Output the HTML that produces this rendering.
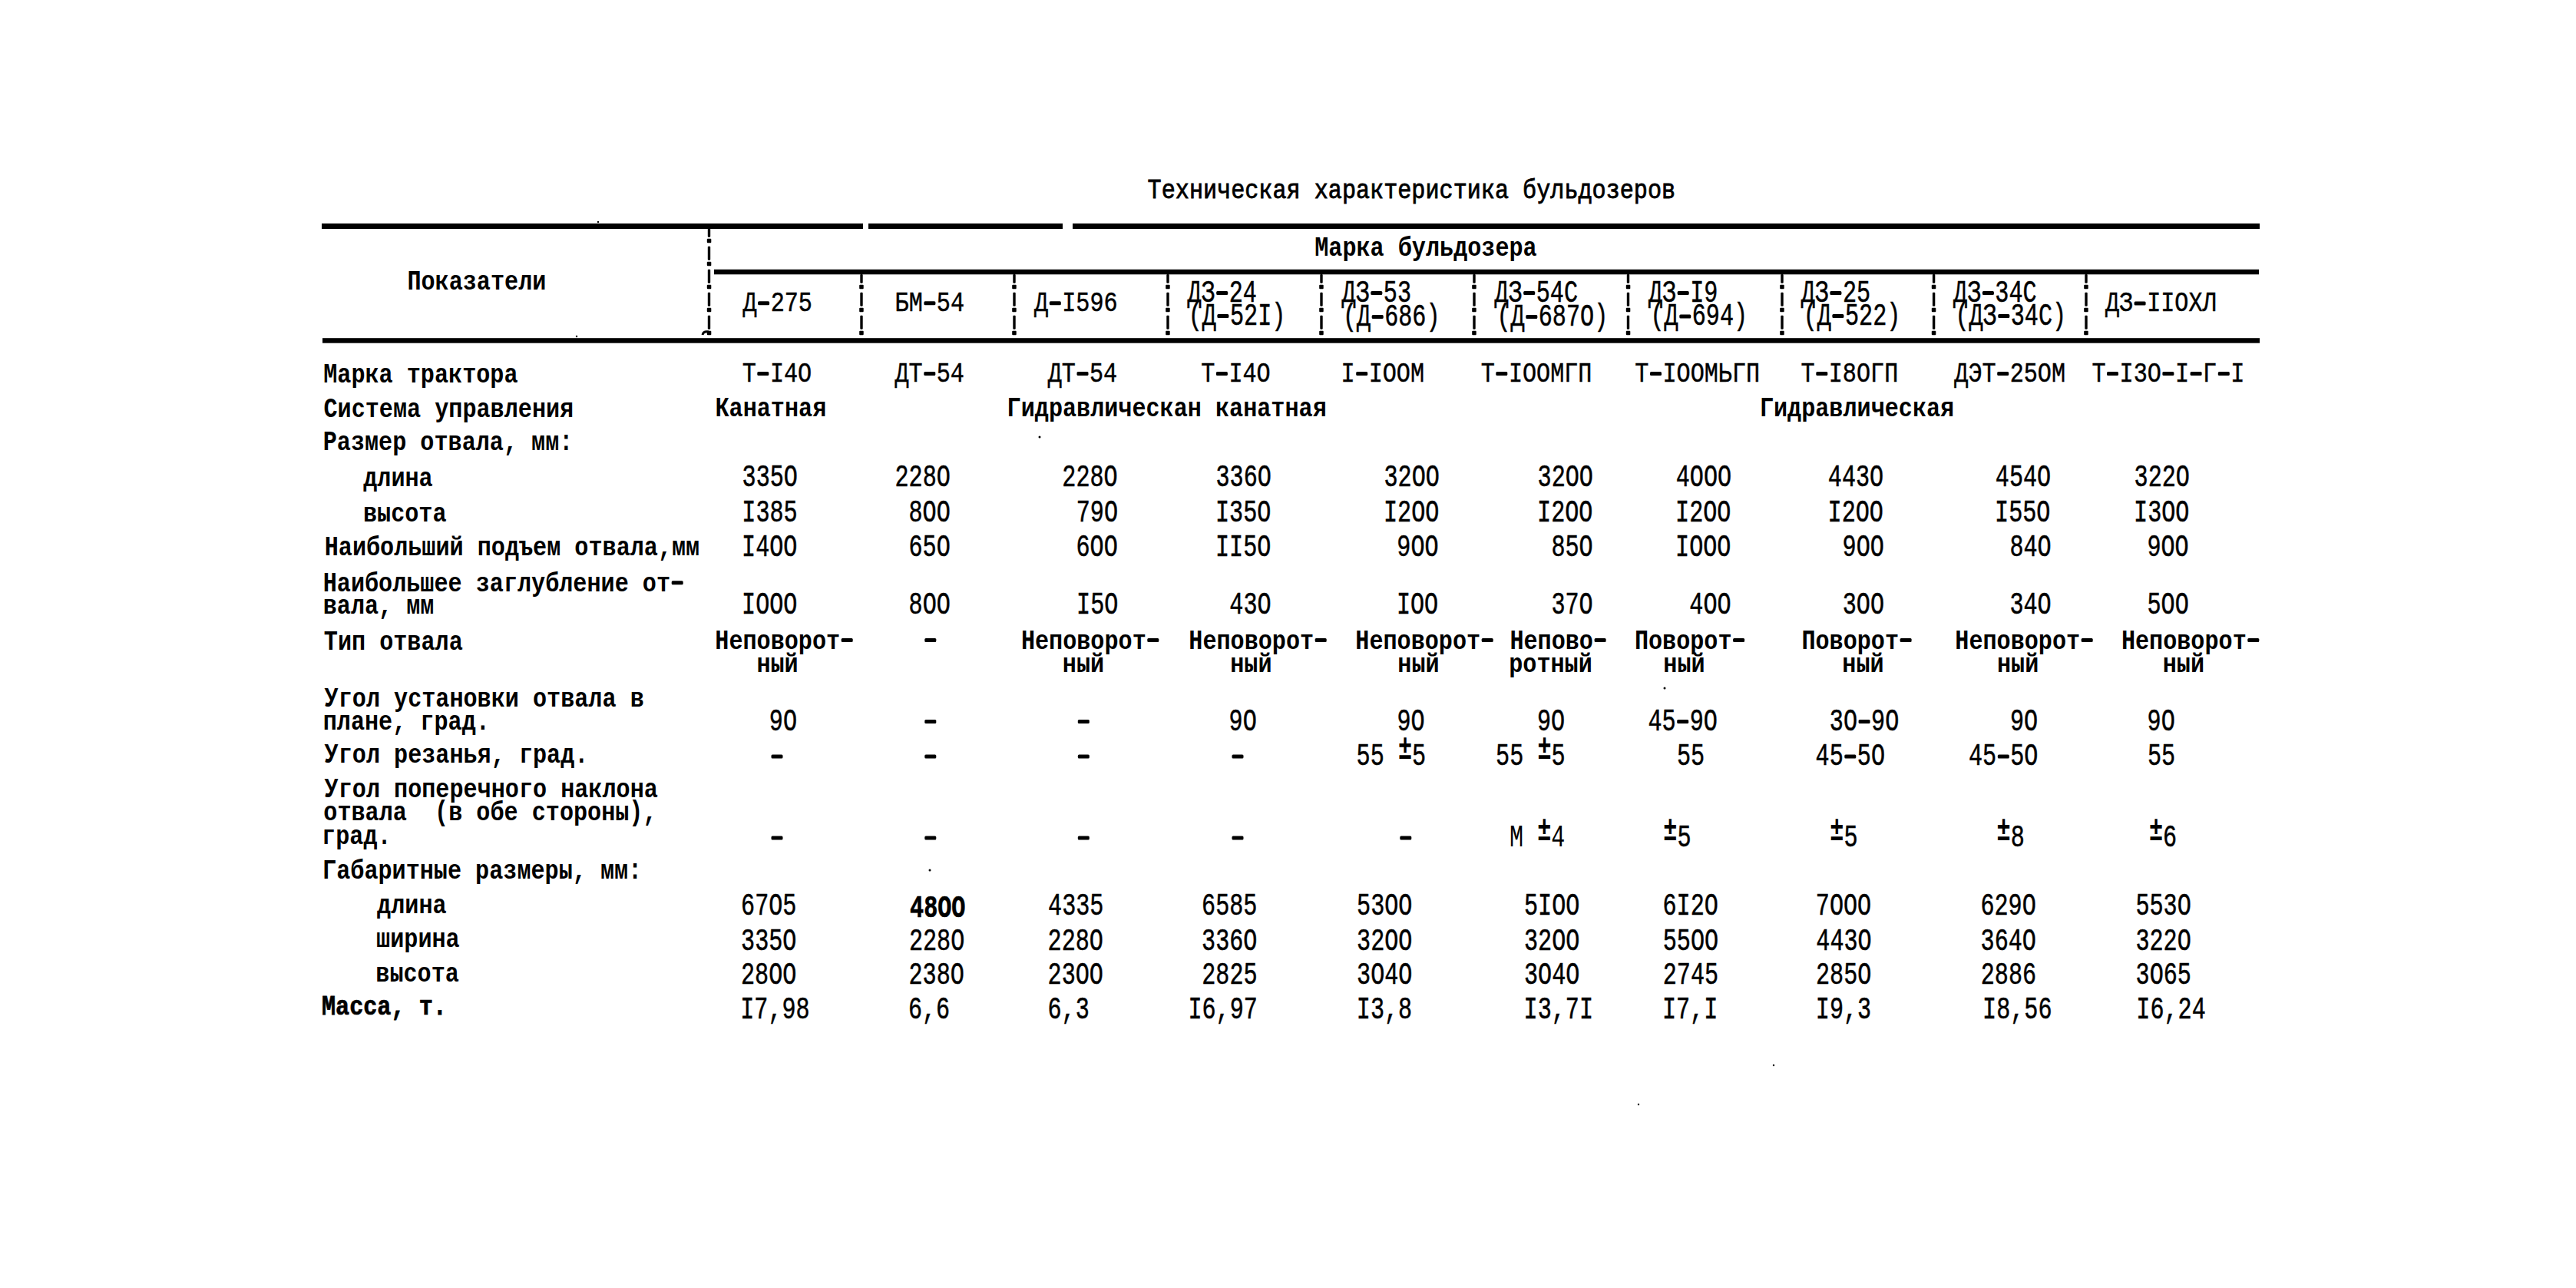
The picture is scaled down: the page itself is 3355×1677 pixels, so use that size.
<!DOCTYPE html><html><head><meta charset="utf-8"><style>html,body{margin:0;padding:0;background:#fff;width:3355px;height:1677px;overflow:hidden}svg{position:absolute;left:0;top:0}text{font-family:"Liberation Mono",monospace;fill:#000}</style></head><body>
<svg width="3355" height="1677" viewBox="0 0 3355 1677">
<rect x="419.0" y="291.0" width="705.0" height="7.0" fill="#000"/>
<rect x="1131.0" y="291.0" width="253.0" height="7.0" fill="#000"/>
<rect x="1397.0" y="291.0" width="1546.0" height="7.0" fill="#000"/>
<rect x="930.0" y="350.8" width="2012.0" height="6.5" fill="#000"/>
<rect x="420.0" y="440.2" width="2523.0" height="6.5" fill="#000"/>
<rect x="921.8" y="297.0" width="3.4" height="11.8" fill="#000" rx="1"/>
<rect x="921.8" y="320.8" width="3.4" height="18.0" fill="#000" rx="1"/>
<rect x="920.8" y="310.8" width="5.5" height="5.5" fill="#000" rx="1"/>
<rect x="921.8" y="350.8" width="3.4" height="18.0" fill="#000" rx="1"/>
<rect x="920.8" y="340.8" width="5.5" height="5.5" fill="#000" rx="1"/>
<rect x="921.8" y="380.8" width="3.4" height="18.0" fill="#000" rx="1"/>
<rect x="920.8" y="370.8" width="5.5" height="5.5" fill="#000" rx="1"/>
<rect x="921.8" y="410.8" width="3.4" height="18.0" fill="#000" rx="1"/>
<rect x="920.8" y="400.8" width="5.5" height="5.5" fill="#000" rx="1"/>
<rect x="920.8" y="430.8" width="5.5" height="5.5" fill="#000" rx="1"/>
<rect x="1120.3" y="357.0" width="3.4" height="11.8" fill="#000" rx="1"/>
<rect x="1120.3" y="380.8" width="3.4" height="18.0" fill="#000" rx="1"/>
<rect x="1119.2" y="370.8" width="5.5" height="5.5" fill="#000" rx="1"/>
<rect x="1120.3" y="410.8" width="3.4" height="18.0" fill="#000" rx="1"/>
<rect x="1119.2" y="400.8" width="5.5" height="5.5" fill="#000" rx="1"/>
<rect x="1119.2" y="430.8" width="5.5" height="5.5" fill="#000" rx="1"/>
<rect x="1319.3" y="357.0" width="3.4" height="11.8" fill="#000" rx="1"/>
<rect x="1319.3" y="380.8" width="3.4" height="18.0" fill="#000" rx="1"/>
<rect x="1318.2" y="370.8" width="5.5" height="5.5" fill="#000" rx="1"/>
<rect x="1319.3" y="410.8" width="3.4" height="18.0" fill="#000" rx="1"/>
<rect x="1318.2" y="400.8" width="5.5" height="5.5" fill="#000" rx="1"/>
<rect x="1318.2" y="430.8" width="5.5" height="5.5" fill="#000" rx="1"/>
<rect x="1519.3" y="357.0" width="3.4" height="11.8" fill="#000" rx="1"/>
<rect x="1519.3" y="380.8" width="3.4" height="18.0" fill="#000" rx="1"/>
<rect x="1518.2" y="370.8" width="5.5" height="5.5" fill="#000" rx="1"/>
<rect x="1519.3" y="410.8" width="3.4" height="18.0" fill="#000" rx="1"/>
<rect x="1518.2" y="400.8" width="5.5" height="5.5" fill="#000" rx="1"/>
<rect x="1518.2" y="430.8" width="5.5" height="5.5" fill="#000" rx="1"/>
<rect x="1719.3" y="357.0" width="3.4" height="11.8" fill="#000" rx="1"/>
<rect x="1719.3" y="380.8" width="3.4" height="18.0" fill="#000" rx="1"/>
<rect x="1718.2" y="370.8" width="5.5" height="5.5" fill="#000" rx="1"/>
<rect x="1719.3" y="410.8" width="3.4" height="18.0" fill="#000" rx="1"/>
<rect x="1718.2" y="400.8" width="5.5" height="5.5" fill="#000" rx="1"/>
<rect x="1718.2" y="430.8" width="5.5" height="5.5" fill="#000" rx="1"/>
<rect x="1918.3" y="357.0" width="3.4" height="11.8" fill="#000" rx="1"/>
<rect x="1918.3" y="380.8" width="3.4" height="18.0" fill="#000" rx="1"/>
<rect x="1917.2" y="370.8" width="5.5" height="5.5" fill="#000" rx="1"/>
<rect x="1918.3" y="410.8" width="3.4" height="18.0" fill="#000" rx="1"/>
<rect x="1917.2" y="400.8" width="5.5" height="5.5" fill="#000" rx="1"/>
<rect x="1917.2" y="430.8" width="5.5" height="5.5" fill="#000" rx="1"/>
<rect x="2118.8" y="357.0" width="3.4" height="11.8" fill="#000" rx="1"/>
<rect x="2118.8" y="380.8" width="3.4" height="18.0" fill="#000" rx="1"/>
<rect x="2117.8" y="370.8" width="5.5" height="5.5" fill="#000" rx="1"/>
<rect x="2118.8" y="410.8" width="3.4" height="18.0" fill="#000" rx="1"/>
<rect x="2117.8" y="400.8" width="5.5" height="5.5" fill="#000" rx="1"/>
<rect x="2117.8" y="430.8" width="5.5" height="5.5" fill="#000" rx="1"/>
<rect x="2319.3" y="357.0" width="3.4" height="11.8" fill="#000" rx="1"/>
<rect x="2319.3" y="380.8" width="3.4" height="18.0" fill="#000" rx="1"/>
<rect x="2318.2" y="370.8" width="5.5" height="5.5" fill="#000" rx="1"/>
<rect x="2319.3" y="410.8" width="3.4" height="18.0" fill="#000" rx="1"/>
<rect x="2318.2" y="400.8" width="5.5" height="5.5" fill="#000" rx="1"/>
<rect x="2318.2" y="430.8" width="5.5" height="5.5" fill="#000" rx="1"/>
<rect x="2516.9" y="357.0" width="3.4" height="11.8" fill="#000" rx="1"/>
<rect x="2516.9" y="380.8" width="3.4" height="18.0" fill="#000" rx="1"/>
<rect x="2515.8" y="370.8" width="5.5" height="5.5" fill="#000" rx="1"/>
<rect x="2516.9" y="410.8" width="3.4" height="18.0" fill="#000" rx="1"/>
<rect x="2515.8" y="400.8" width="5.5" height="5.5" fill="#000" rx="1"/>
<rect x="2515.8" y="430.8" width="5.5" height="5.5" fill="#000" rx="1"/>
<rect x="2715.3" y="357.0" width="3.4" height="11.8" fill="#000" rx="1"/>
<rect x="2715.3" y="380.8" width="3.4" height="18.0" fill="#000" rx="1"/>
<rect x="2714.2" y="370.8" width="5.5" height="5.5" fill="#000" rx="1"/>
<rect x="2715.3" y="410.8" width="3.4" height="18.0" fill="#000" rx="1"/>
<rect x="2714.2" y="400.8" width="5.5" height="5.5" fill="#000" rx="1"/>
<rect x="2714.2" y="430.8" width="5.5" height="5.5" fill="#000" rx="1"/>
<circle cx="779" cy="289" r="1.2" fill="#000"/>
<circle cx="751" cy="438" r="1.2" fill="#000"/>
<circle cx="1354" cy="569" r="1.5" fill="#000"/>
<circle cx="2168" cy="896" r="1.5" fill="#000"/>
<circle cx="1211" cy="1133" r="1.5" fill="#000"/>
<circle cx="2310" cy="1387" r="1.2" fill="#000"/>
<circle cx="2134" cy="1438" r="1.2" fill="#000"/>
<path d="M923 432 Q916 431 915 436" stroke="#000" stroke-width="3" fill="none"/>
<text transform="translate(1494.6,258.0) scale(1,1.250)" font-size="30.16" font-weight="normal" letter-spacing="0.00" stroke="#000" stroke-width="0.70" xml:space="preserve">Т                                     </text>
<text transform="translate(1494.6,258.0) scale(1,1.170)" font-size="30.16" font-weight="normal" letter-spacing="0.00" stroke="#000" stroke-width="0.70" xml:space="preserve"> ехническая характеристика бульдозеров</text>
<text transform="translate(530.4,376.7) scale(1,1.250)" font-size="30.16" font-weight="bold" letter-spacing="0.00" xml:space="preserve">П         </text>
<text transform="translate(530.4,376.7) scale(1,1.170)" font-size="30.16" font-weight="bold" letter-spacing="0.00" xml:space="preserve"> оказатели</text>
<text transform="translate(1712.2,333.0) scale(1,1.250)" font-size="30.16" font-weight="bold" letter-spacing="0.00" xml:space="preserve">М               </text>
<text transform="translate(1712.2,333.0) scale(1,1.170)" font-size="30.16" font-weight="bold" letter-spacing="0.00" xml:space="preserve"> арка бульдозера</text>
<rect x="987.1" y="392.2" width="15.0" height="5.0" fill="#000" rx="1.5"/>
<text transform="translate(967.5,404.7) scale(1,1.200)" font-size="30.16" font-weight="normal" letter-spacing="0.00" stroke="#000" stroke-width="0.40" xml:space="preserve">Д 275</text>
<rect x="1203.4" y="392.2" width="15.0" height="5.0" fill="#000" rx="1.5"/>
<text transform="translate(1165.6,404.7) scale(1,1.200)" font-size="30.16" font-weight="normal" letter-spacing="0.00" stroke="#000" stroke-width="0.40" xml:space="preserve">БМ 54</text>
<rect x="1366.8" y="392.2" width="15.0" height="5.0" fill="#000" rx="1.5"/>
<text transform="translate(1347.1,404.7) scale(1,1.200)" font-size="30.16" font-weight="normal" letter-spacing="0.00" stroke="#000" stroke-width="0.40" xml:space="preserve">Д I596</text>
<rect x="1584.2" y="379.0" width="15.0" height="5.0" fill="#000" rx="1.5"/>
<text transform="translate(1546.5,392.5) scale(1,1.330)" font-size="30.16" font-weight="normal" letter-spacing="0.00" stroke="#000" stroke-width="0.40" xml:space="preserve">ДЗ 24</text>
<rect x="1585.4" y="409.0" width="15.0" height="5.0" fill="#000" rx="1.5"/>
<text transform="translate(1547.7,422.5) scale(1,1.330)" font-size="30.16" font-weight="normal" letter-spacing="0.00" stroke="#000" stroke-width="0.40" xml:space="preserve">(Д 52I)</text>
<rect x="1785.3" y="379.0" width="15.0" height="5.0" fill="#000" rx="1.5"/>
<text transform="translate(1747.6,392.5) scale(1,1.330)" font-size="30.16" font-weight="normal" letter-spacing="0.00" stroke="#000" stroke-width="0.40" xml:space="preserve">ДЗ 53</text>
<rect x="1786.7" y="410.0" width="15.0" height="5.0" fill="#000" rx="1.5"/>
<text transform="translate(1748.9,423.5) scale(1,1.330)" font-size="30.16" font-weight="normal" letter-spacing="0.00" stroke="#000" stroke-width="0.40" xml:space="preserve">(Д 686)</text>
<rect x="1984.2" y="379.0" width="15.0" height="5.0" fill="#000" rx="1.5"/>
<text transform="translate(1946.5,392.5) scale(1,1.330)" font-size="30.16" font-weight="normal" letter-spacing="0.00" stroke="#000" stroke-width="0.40" xml:space="preserve">ДЗ 54С</text>
<rect x="1987.3" y="410.0" width="15.0" height="5.0" fill="#000" rx="1.5"/>
<text transform="translate(1949.5,423.5) scale(1,1.330)" font-size="30.16" font-weight="normal" letter-spacing="0.00" stroke="#000" stroke-width="0.40" xml:space="preserve">(Д 687O)</text>
<rect x="2184.7" y="379.0" width="15.0" height="5.0" fill="#000" rx="1.5"/>
<text transform="translate(2146.9,392.5) scale(1,1.330)" font-size="30.16" font-weight="normal" letter-spacing="0.00" stroke="#000" stroke-width="0.40" xml:space="preserve">ДЗ I9</text>
<rect x="2187.3" y="409.5" width="15.0" height="5.0" fill="#000" rx="1.5"/>
<text transform="translate(2149.5,423.0) scale(1,1.330)" font-size="30.16" font-weight="normal" letter-spacing="0.00" stroke="#000" stroke-width="0.40" xml:space="preserve">(Д 694)</text>
<rect x="2383.4" y="379.0" width="15.0" height="5.0" fill="#000" rx="1.5"/>
<text transform="translate(2345.7,392.5) scale(1,1.330)" font-size="30.16" font-weight="normal" letter-spacing="0.00" stroke="#000" stroke-width="0.40" xml:space="preserve">ДЗ 25</text>
<rect x="2386.4" y="409.0" width="15.0" height="5.0" fill="#000" rx="1.5"/>
<text transform="translate(2348.7,422.5) scale(1,1.330)" font-size="30.16" font-weight="normal" letter-spacing="0.00" stroke="#000" stroke-width="0.40" xml:space="preserve">(Д 522)</text>
<rect x="2581.9" y="379.0" width="15.0" height="5.0" fill="#000" rx="1.5"/>
<text transform="translate(2544.1,392.5) scale(1,1.330)" font-size="30.16" font-weight="normal" letter-spacing="0.00" stroke="#000" stroke-width="0.40" xml:space="preserve">ДЗ 34С</text>
<rect x="2602.3" y="409.0" width="15.0" height="5.0" fill="#000" rx="1.5"/>
<text transform="translate(2546.4,422.5) scale(1,1.330)" font-size="30.16" font-weight="normal" letter-spacing="0.00" stroke="#000" stroke-width="0.40" xml:space="preserve">(ДЗ 34С)</text>
<rect x="2779.6" y="392.5" width="15.0" height="5.0" fill="#000" rx="1.5"/>
<text transform="translate(2741.9,405.0) scale(1,1.200)" font-size="30.16" font-weight="normal" letter-spacing="0.00" stroke="#000" stroke-width="0.40" xml:space="preserve">ДЗ IIОХЛ</text>
<text transform="translate(421.2,497.5) scale(1,1.250)" font-size="30.16" font-weight="bold" letter-spacing="0.00" xml:space="preserve">М             </text>
<text transform="translate(421.2,497.5) scale(1,1.170)" font-size="30.16" font-weight="bold" letter-spacing="0.00" xml:space="preserve"> арка трактора</text>
<text transform="translate(421.5,542.6) scale(1,1.250)" font-size="30.16" font-weight="bold" letter-spacing="0.00" xml:space="preserve">С                 </text>
<text transform="translate(421.5,542.6) scale(1,1.170)" font-size="30.16" font-weight="bold" letter-spacing="0.00" xml:space="preserve"> истема управления</text>
<text transform="translate(420.7,586.3) scale(1,1.250)" font-size="30.16" font-weight="bold" letter-spacing="0.00" xml:space="preserve">Р            ,   :</text>
<text transform="translate(420.7,586.3) scale(1,1.170)" font-size="30.16" font-weight="bold" letter-spacing="0.00" xml:space="preserve"> азмер отвала  мм </text>
<text transform="translate(473.2,633.4) scale(1,1.170)" font-size="30.16" font-weight="bold" letter-spacing="0.00" xml:space="preserve">длина</text>
<text transform="translate(473.0,678.9) scale(1,1.170)" font-size="30.16" font-weight="bold" letter-spacing="0.00" xml:space="preserve">высота</text>
<text transform="translate(422.7,722.5) scale(1,1.250)" font-size="30.16" font-weight="bold" letter-spacing="0.00" xml:space="preserve">Н                       ,  </text>
<text transform="translate(422.7,722.5) scale(1,1.170)" font-size="30.16" font-weight="bold" letter-spacing="0.00" xml:space="preserve"> аибольший подъем отвала мм</text>
<rect x="874.7" y="756.2" width="15.0" height="5.0" fill="#000" rx="1.5"/>
<text transform="translate(420.7,769.7) scale(1,1.250)" font-size="30.16" font-weight="bold" letter-spacing="0.00" xml:space="preserve">Н                         </text>
<text transform="translate(420.7,769.7) scale(1,1.170)" font-size="30.16" font-weight="bold" letter-spacing="0.00" xml:space="preserve"> аибольшее заглубление от </text>
<text transform="translate(420.7,799.0) scale(1,1.250)" font-size="30.16" font-weight="bold" letter-spacing="0.00" xml:space="preserve">    ,   </text>
<text transform="translate(420.7,799.0) scale(1,1.170)" font-size="30.16" font-weight="bold" letter-spacing="0.00" xml:space="preserve">вала  мм</text>
<text transform="translate(421.8,845.5) scale(1,1.250)" font-size="30.16" font-weight="bold" letter-spacing="0.00" xml:space="preserve">Т         </text>
<text transform="translate(421.8,845.5) scale(1,1.170)" font-size="30.16" font-weight="bold" letter-spacing="0.00" xml:space="preserve"> ип отвала</text>
<text transform="translate(422.6,920.3) scale(1,1.250)" font-size="30.16" font-weight="bold" letter-spacing="0.00" xml:space="preserve">У                      </text>
<text transform="translate(422.6,920.3) scale(1,1.170)" font-size="30.16" font-weight="bold" letter-spacing="0.00" xml:space="preserve"> гол установки отвала в</text>
<text transform="translate(420.7,950.0) scale(1,1.250)" font-size="30.16" font-weight="bold" letter-spacing="0.00" xml:space="preserve">     ,     .</text>
<text transform="translate(420.7,950.0) scale(1,1.170)" font-size="30.16" font-weight="bold" letter-spacing="0.00" xml:space="preserve">плане  град </text>
<text transform="translate(422.6,993.0) scale(1,1.250)" font-size="30.16" font-weight="bold" letter-spacing="0.00" xml:space="preserve">У           ,     .</text>
<text transform="translate(422.6,993.0) scale(1,1.170)" font-size="30.16" font-weight="bold" letter-spacing="0.00" xml:space="preserve"> гол резанья  град </text>
<text transform="translate(422.6,1037.7) scale(1,1.250)" font-size="30.16" font-weight="bold" letter-spacing="0.00" xml:space="preserve">У                       </text>
<text transform="translate(422.6,1037.7) scale(1,1.170)" font-size="30.16" font-weight="bold" letter-spacing="0.00" xml:space="preserve"> гол поперечного наклона</text>
<text transform="translate(421.3,1067.5) scale(1,1.250)" font-size="30.16" font-weight="bold" letter-spacing="0.00" xml:space="preserve">        (             ),</text>
<text transform="translate(421.3,1067.5) scale(1,1.170)" font-size="30.16" font-weight="bold" letter-spacing="0.00" xml:space="preserve">отвала   в обе стороны  </text>
<text transform="translate(419.1,1099.0) scale(1,1.250)" font-size="30.16" font-weight="bold" letter-spacing="0.00" xml:space="preserve">    .</text>
<text transform="translate(419.1,1099.0) scale(1,1.170)" font-size="30.16" font-weight="bold" letter-spacing="0.00" xml:space="preserve">град </text>
<text transform="translate(420.1,1144.0) scale(1,1.250)" font-size="30.16" font-weight="bold" letter-spacing="0.00" xml:space="preserve">Г                 ,   :</text>
<text transform="translate(420.1,1144.0) scale(1,1.170)" font-size="30.16" font-weight="bold" letter-spacing="0.00" xml:space="preserve"> абаритные размеры  мм </text>
<text transform="translate(491.1,1188.7) scale(1,1.170)" font-size="30.16" font-weight="bold" letter-spacing="0.00" xml:space="preserve">длина</text>
<text transform="translate(490.1,1233.4) scale(1,1.170)" font-size="30.16" font-weight="bold" letter-spacing="0.00" xml:space="preserve">ширина</text>
<text transform="translate(489.3,1278.0) scale(1,1.170)" font-size="30.16" font-weight="bold" letter-spacing="0.00" xml:space="preserve">высота</text>
<text transform="translate(419.0,1321.0) scale(1,1.250)" font-size="30.16" font-weight="bold" letter-spacing="0.00" stroke="#000" stroke-width="0.60" xml:space="preserve">М    ,  .</text>
<text transform="translate(419.0,1321.0) scale(1,1.170)" font-size="30.16" font-weight="bold" letter-spacing="0.00" stroke="#000" stroke-width="0.60" xml:space="preserve"> асса  т </text>
<rect x="986.3" y="484.0" width="15.0" height="5.0" fill="#000" rx="1.5"/>
<text transform="translate(966.7,496.5) scale(1,1.200)" font-size="30.16" font-weight="normal" letter-spacing="0.00" stroke="#000" stroke-width="0.40" xml:space="preserve">Т I4O</text>
<text transform="translate(931.5,541.5) scale(1,1.250)" font-size="30.16" font-weight="bold" letter-spacing="0.00" xml:space="preserve">К       </text>
<text transform="translate(931.5,541.5) scale(1,1.170)" font-size="30.16" font-weight="bold" letter-spacing="0.00" xml:space="preserve"> анатная</text>
<text transform="translate(966.6,632.5) scale(1,1.330)" font-size="30.16" font-weight="normal" letter-spacing="0.00" stroke="#000" stroke-width="0.40" xml:space="preserve">335O</text>
<text transform="translate(966.3,678.5) scale(1,1.330)" font-size="30.16" font-weight="normal" letter-spacing="0.00" stroke="#000" stroke-width="0.40" xml:space="preserve">I385</text>
<text transform="translate(966.1,723.5) scale(1,1.330)" font-size="30.16" font-weight="normal" letter-spacing="0.00" stroke="#000" stroke-width="0.40" xml:space="preserve">I4OO</text>
<text transform="translate(966.1,798.5) scale(1,1.330)" font-size="30.16" font-weight="normal" letter-spacing="0.00" stroke="#000" stroke-width="0.40" xml:space="preserve">IOOO</text>
<rect x="1095.7" y="831.0" width="15.0" height="5.0" fill="#000" rx="1.5"/>
<text transform="translate(931.3,844.5) scale(1,1.250)" font-size="30.16" font-weight="bold" letter-spacing="0.00" xml:space="preserve">Н         </text>
<text transform="translate(931.3,844.5) scale(1,1.170)" font-size="30.16" font-weight="bold" letter-spacing="0.00" xml:space="preserve"> еповорот </text>
<text transform="translate(985.4,874.5) scale(1,1.170)" font-size="30.16" font-weight="bold" letter-spacing="0.00" xml:space="preserve">ный</text>
<text transform="translate(1001.8,950.5) scale(1,1.330)" font-size="30.16" font-weight="normal" letter-spacing="0.00" stroke="#000" stroke-width="0.40" xml:space="preserve">9O</text>
<rect x="1004.5" y="982.5" width="15.0" height="5.0" fill="#000" rx="1.5"/>
<rect x="1004.5" y="1088.5" width="15.0" height="5.0" fill="#000" rx="1.5"/>
<text transform="translate(965.1,1191.0) scale(1,1.330)" font-size="30.16" font-weight="normal" letter-spacing="0.00" stroke="#000" stroke-width="0.40" xml:space="preserve">67O5</text>
<text transform="translate(965.1,1236.5) scale(1,1.330)" font-size="30.16" font-weight="normal" letter-spacing="0.00" stroke="#000" stroke-width="0.40" xml:space="preserve">335O</text>
<text transform="translate(965.0,1281.0) scale(1,1.330)" font-size="30.16" font-weight="normal" letter-spacing="0.00" stroke="#000" stroke-width="0.40" xml:space="preserve">28OO</text>
<text transform="translate(964.2,1326.0) scale(1,1.330)" font-size="30.16" font-weight="normal" letter-spacing="0.00" stroke="#000" stroke-width="0.40" xml:space="preserve">I7,98</text>
<rect x="1203.3" y="484.0" width="15.0" height="5.0" fill="#000" rx="1.5"/>
<text transform="translate(1165.5,496.5) scale(1,1.200)" font-size="30.16" font-weight="normal" letter-spacing="0.00" stroke="#000" stroke-width="0.40" xml:space="preserve">ДТ 54</text>
<text transform="translate(1165.5,632.5) scale(1,1.330)" font-size="30.16" font-weight="normal" letter-spacing="0.00" stroke="#000" stroke-width="0.40" xml:space="preserve">228O</text>
<text transform="translate(1183.5,678.5) scale(1,1.330)" font-size="30.16" font-weight="normal" letter-spacing="0.00" stroke="#000" stroke-width="0.40" xml:space="preserve">8OO</text>
<text transform="translate(1183.5,723.5) scale(1,1.330)" font-size="30.16" font-weight="normal" letter-spacing="0.00" stroke="#000" stroke-width="0.40" xml:space="preserve">65O</text>
<text transform="translate(1183.6,798.5) scale(1,1.330)" font-size="30.16" font-weight="normal" letter-spacing="0.00" stroke="#000" stroke-width="0.40" xml:space="preserve">8OO</text>
<rect x="1204.3" y="831.0" width="15.0" height="5.0" fill="#000" rx="1.5"/>
<rect x="1204.3" y="937.0" width="15.0" height="5.0" fill="#000" rx="1.5"/>
<rect x="1204.3" y="982.5" width="15.0" height="5.0" fill="#000" rx="1.5"/>
<rect x="1204.3" y="1088.5" width="15.0" height="5.0" fill="#000" rx="1.5"/>
<text transform="translate(1185.1,1194.0) scale(1,1.330)" font-size="30.16" font-weight="bold" letter-spacing="0.00" stroke="#000" stroke-width="0.50" xml:space="preserve">48OO</text>
<text transform="translate(1183.9,1236.5) scale(1,1.330)" font-size="30.16" font-weight="normal" letter-spacing="0.00" stroke="#000" stroke-width="0.40" xml:space="preserve">228O</text>
<text transform="translate(1183.5,1281.0) scale(1,1.330)" font-size="30.16" font-weight="normal" letter-spacing="0.00" stroke="#000" stroke-width="0.40" xml:space="preserve">238O</text>
<text transform="translate(1182.9,1326.0) scale(1,1.330)" font-size="30.16" font-weight="normal" letter-spacing="0.00" stroke="#000" stroke-width="0.40" xml:space="preserve">6,6</text>
<rect x="1402.5" y="484.0" width="15.0" height="5.0" fill="#000" rx="1.5"/>
<text transform="translate(1364.7,496.5) scale(1,1.200)" font-size="30.16" font-weight="normal" letter-spacing="0.00" stroke="#000" stroke-width="0.40" xml:space="preserve">ДТ 54</text>
<text transform="translate(1311.6,541.5) scale(1,1.250)" font-size="30.16" font-weight="bold" letter-spacing="0.00" xml:space="preserve">Г                      </text>
<text transform="translate(1311.6,541.5) scale(1,1.170)" font-size="30.16" font-weight="bold" letter-spacing="0.00" xml:space="preserve"> идравлическан канатная</text>
<text transform="translate(1383.3,632.5) scale(1,1.330)" font-size="30.16" font-weight="normal" letter-spacing="0.00" stroke="#000" stroke-width="0.40" xml:space="preserve">228O</text>
<text transform="translate(1401.7,678.5) scale(1,1.330)" font-size="30.16" font-weight="normal" letter-spacing="0.00" stroke="#000" stroke-width="0.40" xml:space="preserve">79O</text>
<text transform="translate(1401.5,723.5) scale(1,1.330)" font-size="30.16" font-weight="normal" letter-spacing="0.00" stroke="#000" stroke-width="0.40" xml:space="preserve">6OO</text>
<text transform="translate(1402.1,798.5) scale(1,1.330)" font-size="30.16" font-weight="normal" letter-spacing="0.00" stroke="#000" stroke-width="0.40" xml:space="preserve">I5O</text>
<rect x="1494.3" y="831.0" width="15.0" height="5.0" fill="#000" rx="1.5"/>
<text transform="translate(1329.9,844.5) scale(1,1.250)" font-size="30.16" font-weight="bold" letter-spacing="0.00" xml:space="preserve">Н         </text>
<text transform="translate(1329.9,844.5) scale(1,1.170)" font-size="30.16" font-weight="bold" letter-spacing="0.00" xml:space="preserve"> еповорот </text>
<text transform="translate(1383.8,874.5) scale(1,1.170)" font-size="30.16" font-weight="bold" letter-spacing="0.00" xml:space="preserve">ный</text>
<rect x="1403.8" y="937.0" width="15.0" height="5.0" fill="#000" rx="1.5"/>
<rect x="1403.8" y="982.5" width="15.0" height="5.0" fill="#000" rx="1.5"/>
<rect x="1403.8" y="1088.5" width="15.0" height="5.0" fill="#000" rx="1.5"/>
<text transform="translate(1365.1,1191.0) scale(1,1.330)" font-size="30.16" font-weight="normal" letter-spacing="0.00" stroke="#000" stroke-width="0.40" xml:space="preserve">4335</text>
<text transform="translate(1364.6,1236.5) scale(1,1.330)" font-size="30.16" font-weight="normal" letter-spacing="0.00" stroke="#000" stroke-width="0.40" xml:space="preserve">228O</text>
<text transform="translate(1364.6,1281.0) scale(1,1.330)" font-size="30.16" font-weight="normal" letter-spacing="0.00" stroke="#000" stroke-width="0.40" xml:space="preserve">23OO</text>
<text transform="translate(1364.5,1326.0) scale(1,1.330)" font-size="30.16" font-weight="normal" letter-spacing="0.00" stroke="#000" stroke-width="0.40" xml:space="preserve">6,3</text>
<rect x="1583.9" y="484.0" width="15.0" height="5.0" fill="#000" rx="1.5"/>
<text transform="translate(1564.2,496.5) scale(1,1.200)" font-size="30.16" font-weight="normal" letter-spacing="0.00" stroke="#000" stroke-width="0.40" xml:space="preserve">Т I4O</text>
<text transform="translate(1583.5,632.5) scale(1,1.330)" font-size="30.16" font-weight="normal" letter-spacing="0.00" stroke="#000" stroke-width="0.40" xml:space="preserve">336O</text>
<text transform="translate(1583.0,678.5) scale(1,1.330)" font-size="30.16" font-weight="normal" letter-spacing="0.00" stroke="#000" stroke-width="0.40" xml:space="preserve">I35O</text>
<text transform="translate(1583.0,723.5) scale(1,1.330)" font-size="30.16" font-weight="normal" letter-spacing="0.00" stroke="#000" stroke-width="0.40" xml:space="preserve">II5O</text>
<text transform="translate(1601.3,798.5) scale(1,1.330)" font-size="30.16" font-weight="normal" letter-spacing="0.00" stroke="#000" stroke-width="0.40" xml:space="preserve">43O</text>
<rect x="1712.7" y="831.0" width="15.0" height="5.0" fill="#000" rx="1.5"/>
<text transform="translate(1548.3,844.5) scale(1,1.250)" font-size="30.16" font-weight="bold" letter-spacing="0.00" xml:space="preserve">Н         </text>
<text transform="translate(1548.3,844.5) scale(1,1.170)" font-size="30.16" font-weight="bold" letter-spacing="0.00" xml:space="preserve"> еповорот </text>
<text transform="translate(1602.2,874.5) scale(1,1.170)" font-size="30.16" font-weight="bold" letter-spacing="0.00" xml:space="preserve">ный</text>
<text transform="translate(1600.6,950.5) scale(1,1.330)" font-size="30.16" font-weight="normal" letter-spacing="0.00" stroke="#000" stroke-width="0.40" xml:space="preserve">9O</text>
<rect x="1604.5" y="982.5" width="15.0" height="5.0" fill="#000" rx="1.5"/>
<rect x="1604.5" y="1088.5" width="15.0" height="5.0" fill="#000" rx="1.5"/>
<text transform="translate(1565.1,1191.0) scale(1,1.330)" font-size="30.16" font-weight="normal" letter-spacing="0.00" stroke="#000" stroke-width="0.40" xml:space="preserve">6585</text>
<text transform="translate(1565.1,1236.5) scale(1,1.330)" font-size="30.16" font-weight="normal" letter-spacing="0.00" stroke="#000" stroke-width="0.40" xml:space="preserve">336O</text>
<text transform="translate(1565.2,1281.0) scale(1,1.330)" font-size="30.16" font-weight="normal" letter-spacing="0.00" stroke="#000" stroke-width="0.40" xml:space="preserve">2825</text>
<text transform="translate(1547.4,1326.0) scale(1,1.330)" font-size="30.16" font-weight="normal" letter-spacing="0.00" stroke="#000" stroke-width="0.40" xml:space="preserve">I6,97</text>
<rect x="1766.2" y="484.0" width="15.0" height="5.0" fill="#000" rx="1.5"/>
<text transform="translate(1746.5,496.5) scale(1,1.200)" font-size="30.16" font-weight="normal" letter-spacing="0.00" stroke="#000" stroke-width="0.40" xml:space="preserve">I IOOМ</text>
<text transform="translate(1802.5,632.5) scale(1,1.330)" font-size="30.16" font-weight="normal" letter-spacing="0.00" stroke="#000" stroke-width="0.40" xml:space="preserve">32OO</text>
<text transform="translate(1802.0,678.5) scale(1,1.330)" font-size="30.16" font-weight="normal" letter-spacing="0.00" stroke="#000" stroke-width="0.40" xml:space="preserve">I2OO</text>
<text transform="translate(1819.3,723.5) scale(1,1.330)" font-size="30.16" font-weight="normal" letter-spacing="0.00" stroke="#000" stroke-width="0.40" xml:space="preserve">9OO</text>
<text transform="translate(1818.9,798.5) scale(1,1.330)" font-size="30.16" font-weight="normal" letter-spacing="0.00" stroke="#000" stroke-width="0.40" xml:space="preserve">IOO</text>
<rect x="1929.7" y="831.0" width="15.0" height="5.0" fill="#000" rx="1.5"/>
<text transform="translate(1765.3,844.5) scale(1,1.250)" font-size="30.16" font-weight="bold" letter-spacing="0.00" xml:space="preserve">Н         </text>
<text transform="translate(1765.3,844.5) scale(1,1.170)" font-size="30.16" font-weight="bold" letter-spacing="0.00" xml:space="preserve"> еповорот </text>
<text transform="translate(1820.3,874.5) scale(1,1.170)" font-size="30.16" font-weight="bold" letter-spacing="0.00" xml:space="preserve">ный</text>
<text transform="translate(1819.4,950.5) scale(1,1.330)" font-size="30.16" font-weight="normal" letter-spacing="0.00" stroke="#000" stroke-width="0.40" xml:space="preserve">9O</text>
<text transform="translate(1820.9,988.0) scale(1,1.45)" font-size="30.16" font-weight="bold" letter-spacing="0">±</text>
<text transform="translate(1766.6,996.0) scale(1,1.330)" font-size="30.16" font-weight="normal" letter-spacing="0.00" stroke="#000" stroke-width="0.40" xml:space="preserve">55  5</text>
<rect x="1823.3" y="1088.5" width="15.0" height="5.0" fill="#000" rx="1.5"/>
<text transform="translate(1767.1,1191.0) scale(1,1.330)" font-size="30.16" font-weight="normal" letter-spacing="0.00" stroke="#000" stroke-width="0.40" xml:space="preserve">53OO</text>
<text transform="translate(1767.1,1236.5) scale(1,1.330)" font-size="30.16" font-weight="normal" letter-spacing="0.00" stroke="#000" stroke-width="0.40" xml:space="preserve">32OO</text>
<text transform="translate(1767.1,1281.0) scale(1,1.330)" font-size="30.16" font-weight="normal" letter-spacing="0.00" stroke="#000" stroke-width="0.40" xml:space="preserve">3O4O</text>
<text transform="translate(1766.8,1326.0) scale(1,1.330)" font-size="30.16" font-weight="normal" letter-spacing="0.00" stroke="#000" stroke-width="0.40" xml:space="preserve">I3,8</text>
<rect x="1948.3" y="484.0" width="15.0" height="5.0" fill="#000" rx="1.5"/>
<text transform="translate(1928.7,496.5) scale(1,1.200)" font-size="30.16" font-weight="normal" letter-spacing="0.00" stroke="#000" stroke-width="0.40" xml:space="preserve">Т IOOМГП</text>
<text transform="translate(2002.6,632.5) scale(1,1.330)" font-size="30.16" font-weight="normal" letter-spacing="0.00" stroke="#000" stroke-width="0.40" xml:space="preserve">32OO</text>
<text transform="translate(2002.1,678.5) scale(1,1.330)" font-size="30.16" font-weight="normal" letter-spacing="0.00" stroke="#000" stroke-width="0.40" xml:space="preserve">I2OO</text>
<text transform="translate(2020.4,723.5) scale(1,1.330)" font-size="30.16" font-weight="normal" letter-spacing="0.00" stroke="#000" stroke-width="0.40" xml:space="preserve">85O</text>
<text transform="translate(2020.4,798.5) scale(1,1.330)" font-size="30.16" font-weight="normal" letter-spacing="0.00" stroke="#000" stroke-width="0.40" xml:space="preserve">37O</text>
<rect x="2076.6" y="831.0" width="15.0" height="5.0" fill="#000" rx="1.5"/>
<text transform="translate(1966.4,844.5) scale(1,1.250)" font-size="30.16" font-weight="bold" letter-spacing="0.00" xml:space="preserve">Н      </text>
<text transform="translate(1966.4,844.5) scale(1,1.170)" font-size="30.16" font-weight="bold" letter-spacing="0.00" xml:space="preserve"> епово </text>
<text transform="translate(1965.2,874.5) scale(1,1.170)" font-size="30.16" font-weight="bold" letter-spacing="0.00" xml:space="preserve">ротный</text>
<text transform="translate(2001.9,950.5) scale(1,1.330)" font-size="30.16" font-weight="normal" letter-spacing="0.00" stroke="#000" stroke-width="0.40" xml:space="preserve">9O</text>
<text transform="translate(2002.4,988.0) scale(1,1.45)" font-size="30.16" font-weight="bold" letter-spacing="0">±</text>
<text transform="translate(1948.1,996.0) scale(1,1.330)" font-size="30.16" font-weight="normal" letter-spacing="0.00" stroke="#000" stroke-width="0.40" xml:space="preserve">55  5</text>
<text transform="translate(2002.3,1094.0) scale(1,1.45)" font-size="30.16" font-weight="bold" letter-spacing="0">±</text>
<text transform="translate(1966.1,1102.0) scale(1,1.330)" font-size="30.16" font-weight="normal" letter-spacing="0.00" xml:space="preserve">М  4</text>
<text transform="translate(1985.0,1191.0) scale(1,1.330)" font-size="30.16" font-weight="normal" letter-spacing="0.00" stroke="#000" stroke-width="0.40" xml:space="preserve">5IOO</text>
<text transform="translate(1985.0,1236.5) scale(1,1.330)" font-size="30.16" font-weight="normal" letter-spacing="0.00" stroke="#000" stroke-width="0.40" xml:space="preserve">32OO</text>
<text transform="translate(1985.0,1281.0) scale(1,1.330)" font-size="30.16" font-weight="normal" letter-spacing="0.00" stroke="#000" stroke-width="0.40" xml:space="preserve">3O4O</text>
<text transform="translate(1984.6,1326.0) scale(1,1.330)" font-size="30.16" font-weight="normal" letter-spacing="0.00" stroke="#000" stroke-width="0.40" xml:space="preserve">I3,7I</text>
<rect x="2149.0" y="484.0" width="15.0" height="5.0" fill="#000" rx="1.5"/>
<text transform="translate(2129.3,496.5) scale(1,1.200)" font-size="30.16" font-weight="normal" letter-spacing="0.00" stroke="#000" stroke-width="0.40" xml:space="preserve">Т IOOМЬГП</text>
<text transform="translate(2182.7,632.5) scale(1,1.330)" font-size="30.16" font-weight="normal" letter-spacing="0.00" stroke="#000" stroke-width="0.40" xml:space="preserve">4OOO</text>
<text transform="translate(2182.1,678.5) scale(1,1.330)" font-size="30.16" font-weight="normal" letter-spacing="0.00" stroke="#000" stroke-width="0.40" xml:space="preserve">I2OO</text>
<text transform="translate(2182.1,723.5) scale(1,1.330)" font-size="30.16" font-weight="normal" letter-spacing="0.00" stroke="#000" stroke-width="0.40" xml:space="preserve">IOOO</text>
<text transform="translate(2200.3,798.5) scale(1,1.330)" font-size="30.16" font-weight="normal" letter-spacing="0.00" stroke="#000" stroke-width="0.40" xml:space="preserve">4OO</text>
<rect x="2257.1" y="831.0" width="15.0" height="5.0" fill="#000" rx="1.5"/>
<text transform="translate(2128.9,844.5) scale(1,1.250)" font-size="30.16" font-weight="bold" letter-spacing="0.00" xml:space="preserve">П       </text>
<text transform="translate(2128.9,844.5) scale(1,1.170)" font-size="30.16" font-weight="bold" letter-spacing="0.00" xml:space="preserve"> оворот </text>
<text transform="translate(2166.3,874.5) scale(1,1.170)" font-size="30.16" font-weight="bold" letter-spacing="0.00" xml:space="preserve">ный</text>
<rect x="2184.2" y="937.0" width="15.0" height="5.0" fill="#000" rx="1.5"/>
<text transform="translate(2146.5,950.5) scale(1,1.330)" font-size="30.16" font-weight="normal" letter-spacing="0.00" stroke="#000" stroke-width="0.40" xml:space="preserve">45 9O</text>
<text transform="translate(2183.9,996.0) scale(1,1.330)" font-size="30.16" font-weight="normal" letter-spacing="0.00" stroke="#000" stroke-width="0.40" xml:space="preserve">55</text>
<text transform="translate(2166.3,1094.0) scale(1,1.45)" font-size="30.16" font-weight="bold" letter-spacing="0">±</text>
<text transform="translate(2166.3,1102.0) scale(1,1.330)" font-size="30.16" font-weight="normal" letter-spacing="0.00" stroke="#000" stroke-width="0.40" xml:space="preserve"> 5</text>
<text transform="translate(2165.5,1191.0) scale(1,1.330)" font-size="30.16" font-weight="normal" letter-spacing="0.00" stroke="#000" stroke-width="0.40" xml:space="preserve">6I2O</text>
<text transform="translate(2165.7,1236.5) scale(1,1.330)" font-size="30.16" font-weight="normal" letter-spacing="0.00" stroke="#000" stroke-width="0.40" xml:space="preserve">55OO</text>
<text transform="translate(2165.7,1281.0) scale(1,1.330)" font-size="30.16" font-weight="normal" letter-spacing="0.00" stroke="#000" stroke-width="0.40" xml:space="preserve">2745</text>
<text transform="translate(2164.9,1326.0) scale(1,1.330)" font-size="30.16" font-weight="normal" letter-spacing="0.00" stroke="#000" stroke-width="0.40" xml:space="preserve">I7,I</text>
<rect x="2365.3" y="484.0" width="15.0" height="5.0" fill="#000" rx="1.5"/>
<text transform="translate(2345.6,496.5) scale(1,1.200)" font-size="30.16" font-weight="normal" letter-spacing="0.00" stroke="#000" stroke-width="0.40" xml:space="preserve">Т I8ОГП</text>
<text transform="translate(2291.9,541.5) scale(1,1.250)" font-size="30.16" font-weight="bold" letter-spacing="0.00" xml:space="preserve">Г             </text>
<text transform="translate(2291.9,541.5) scale(1,1.170)" font-size="30.16" font-weight="bold" letter-spacing="0.00" xml:space="preserve"> идравлическая</text>
<text transform="translate(2380.8,632.5) scale(1,1.330)" font-size="30.16" font-weight="normal" letter-spacing="0.00" stroke="#000" stroke-width="0.40" xml:space="preserve">443O</text>
<text transform="translate(2380.6,678.5) scale(1,1.330)" font-size="30.16" font-weight="normal" letter-spacing="0.00" stroke="#000" stroke-width="0.40" xml:space="preserve">I2OO</text>
<text transform="translate(2399.6,723.5) scale(1,1.330)" font-size="30.16" font-weight="normal" letter-spacing="0.00" stroke="#000" stroke-width="0.40" xml:space="preserve">9OO</text>
<text transform="translate(2399.7,798.5) scale(1,1.330)" font-size="30.16" font-weight="normal" letter-spacing="0.00" stroke="#000" stroke-width="0.40" xml:space="preserve">3OO</text>
<rect x="2474.6" y="831.0" width="15.0" height="5.0" fill="#000" rx="1.5"/>
<text transform="translate(2346.4,844.5) scale(1,1.250)" font-size="30.16" font-weight="bold" letter-spacing="0.00" xml:space="preserve">П       </text>
<text transform="translate(2346.4,844.5) scale(1,1.170)" font-size="30.16" font-weight="bold" letter-spacing="0.00" xml:space="preserve"> оворот </text>
<text transform="translate(2399.3,874.5) scale(1,1.170)" font-size="30.16" font-weight="bold" letter-spacing="0.00" xml:space="preserve">ный</text>
<rect x="2420.6" y="937.0" width="15.0" height="5.0" fill="#000" rx="1.5"/>
<text transform="translate(2382.8,950.5) scale(1,1.330)" font-size="30.16" font-weight="normal" letter-spacing="0.00" stroke="#000" stroke-width="0.40" xml:space="preserve">3O 9O</text>
<rect x="2402.3" y="982.5" width="15.0" height="5.0" fill="#000" rx="1.5"/>
<text transform="translate(2364.6,996.0) scale(1,1.330)" font-size="30.16" font-weight="normal" letter-spacing="0.00" stroke="#000" stroke-width="0.40" xml:space="preserve">45 5O</text>
<text transform="translate(2383.3,1094.0) scale(1,1.45)" font-size="30.16" font-weight="bold" letter-spacing="0">±</text>
<text transform="translate(2383.3,1102.0) scale(1,1.330)" font-size="30.16" font-weight="normal" letter-spacing="0.00" stroke="#000" stroke-width="0.40" xml:space="preserve"> 5</text>
<text transform="translate(2364.8,1191.0) scale(1,1.330)" font-size="30.16" font-weight="normal" letter-spacing="0.00" stroke="#000" stroke-width="0.40" xml:space="preserve">7OOO</text>
<text transform="translate(2365.3,1236.5) scale(1,1.330)" font-size="30.16" font-weight="normal" letter-spacing="0.00" stroke="#000" stroke-width="0.40" xml:space="preserve">443O</text>
<text transform="translate(2365.0,1281.0) scale(1,1.330)" font-size="30.16" font-weight="normal" letter-spacing="0.00" stroke="#000" stroke-width="0.40" xml:space="preserve">285O</text>
<text transform="translate(2364.8,1326.0) scale(1,1.330)" font-size="30.16" font-weight="normal" letter-spacing="0.00" stroke="#000" stroke-width="0.40" xml:space="preserve">I9,3</text>
<rect x="2601.2" y="484.0" width="15.0" height="5.0" fill="#000" rx="1.5"/>
<text transform="translate(2545.3,496.5) scale(1,1.200)" font-size="30.16" font-weight="normal" letter-spacing="0.00" stroke="#000" stroke-width="0.40" xml:space="preserve">ДЭТ 25OМ</text>
<text transform="translate(2598.8,632.5) scale(1,1.330)" font-size="30.16" font-weight="normal" letter-spacing="0.00" stroke="#000" stroke-width="0.40" xml:space="preserve">454O</text>
<text transform="translate(2598.1,678.5) scale(1,1.330)" font-size="30.16" font-weight="normal" letter-spacing="0.00" stroke="#000" stroke-width="0.40" xml:space="preserve">I55O</text>
<text transform="translate(2617.4,723.5) scale(1,1.330)" font-size="30.16" font-weight="normal" letter-spacing="0.00" stroke="#000" stroke-width="0.40" xml:space="preserve">84O</text>
<text transform="translate(2617.4,798.5) scale(1,1.330)" font-size="30.16" font-weight="normal" letter-spacing="0.00" stroke="#000" stroke-width="0.40" xml:space="preserve">34O</text>
<rect x="2710.7" y="831.0" width="15.0" height="5.0" fill="#000" rx="1.5"/>
<text transform="translate(2546.3,844.5) scale(1,1.250)" font-size="30.16" font-weight="bold" letter-spacing="0.00" xml:space="preserve">Н         </text>
<text transform="translate(2546.3,844.5) scale(1,1.170)" font-size="30.16" font-weight="bold" letter-spacing="0.00" xml:space="preserve"> еповорот </text>
<text transform="translate(2601.0,874.5) scale(1,1.170)" font-size="30.16" font-weight="bold" letter-spacing="0.00" xml:space="preserve">ный</text>
<text transform="translate(2617.9,950.5) scale(1,1.330)" font-size="30.16" font-weight="normal" letter-spacing="0.00" stroke="#000" stroke-width="0.40" xml:space="preserve">9O</text>
<rect x="2601.8" y="982.5" width="15.0" height="5.0" fill="#000" rx="1.5"/>
<text transform="translate(2564.0,996.0) scale(1,1.330)" font-size="30.16" font-weight="normal" letter-spacing="0.00" stroke="#000" stroke-width="0.40" xml:space="preserve">45 5O</text>
<text transform="translate(2600.6,1094.0) scale(1,1.45)" font-size="30.16" font-weight="bold" letter-spacing="0">±</text>
<text transform="translate(2600.6,1102.0) scale(1,1.330)" font-size="30.16" font-weight="normal" letter-spacing="0.00" stroke="#000" stroke-width="0.40" xml:space="preserve"> 8</text>
<text transform="translate(2579.4,1191.0) scale(1,1.330)" font-size="30.16" font-weight="normal" letter-spacing="0.00" stroke="#000" stroke-width="0.40" xml:space="preserve">629O</text>
<text transform="translate(2579.6,1236.5) scale(1,1.330)" font-size="30.16" font-weight="normal" letter-spacing="0.00" stroke="#000" stroke-width="0.40" xml:space="preserve">364O</text>
<text transform="translate(2579.7,1281.0) scale(1,1.330)" font-size="30.16" font-weight="normal" letter-spacing="0.00" stroke="#000" stroke-width="0.40" xml:space="preserve">2886</text>
<text transform="translate(2582.1,1326.0) scale(1,1.330)" font-size="30.16" font-weight="normal" letter-spacing="0.00" stroke="#000" stroke-width="0.40" xml:space="preserve">I8,56</text>
<rect x="2744.0" y="484.0" width="15.0" height="5.0" fill="#000" rx="1.5"/>
<rect x="2816.4" y="484.0" width="15.0" height="5.0" fill="#000" rx="1.5"/>
<rect x="2852.6" y="484.0" width="15.0" height="5.0" fill="#000" rx="1.5"/>
<rect x="2888.8" y="484.0" width="15.0" height="5.0" fill="#000" rx="1.5"/>
<text transform="translate(2724.4,496.5) scale(1,1.200)" font-size="30.16" font-weight="normal" letter-spacing="0.00" stroke="#000" stroke-width="0.40" xml:space="preserve">Т I3O I Г I</text>
<text transform="translate(2779.6,632.5) scale(1,1.330)" font-size="30.16" font-weight="normal" letter-spacing="0.00" stroke="#000" stroke-width="0.40" xml:space="preserve">322O</text>
<text transform="translate(2779.1,678.5) scale(1,1.330)" font-size="30.16" font-weight="normal" letter-spacing="0.00" stroke="#000" stroke-width="0.40" xml:space="preserve">I3OO</text>
<text transform="translate(2796.4,723.5) scale(1,1.330)" font-size="30.16" font-weight="normal" letter-spacing="0.00" stroke="#000" stroke-width="0.40" xml:space="preserve">9OO</text>
<text transform="translate(2796.5,798.5) scale(1,1.330)" font-size="30.16" font-weight="normal" letter-spacing="0.00" stroke="#000" stroke-width="0.40" xml:space="preserve">5OO</text>
<rect x="2927.3" y="831.0" width="15.0" height="5.0" fill="#000" rx="1.5"/>
<text transform="translate(2762.9,844.5) scale(1,1.250)" font-size="30.16" font-weight="bold" letter-spacing="0.00" xml:space="preserve">Н         </text>
<text transform="translate(2762.9,844.5) scale(1,1.170)" font-size="30.16" font-weight="bold" letter-spacing="0.00" xml:space="preserve"> еповорот </text>
<text transform="translate(2816.7,874.5) scale(1,1.170)" font-size="30.16" font-weight="bold" letter-spacing="0.00" xml:space="preserve">ный</text>
<text transform="translate(2796.6,950.5) scale(1,1.330)" font-size="30.16" font-weight="normal" letter-spacing="0.00" stroke="#000" stroke-width="0.40" xml:space="preserve">9O</text>
<text transform="translate(2796.9,996.0) scale(1,1.330)" font-size="30.16" font-weight="normal" letter-spacing="0.00" stroke="#000" stroke-width="0.40" xml:space="preserve">55</text>
<text transform="translate(2798.9,1094.0) scale(1,1.45)" font-size="30.16" font-weight="bold" letter-spacing="0">±</text>
<text transform="translate(2798.9,1102.0) scale(1,1.330)" font-size="30.16" font-weight="normal" letter-spacing="0.00" stroke="#000" stroke-width="0.40" xml:space="preserve"> 6</text>
<text transform="translate(2781.4,1191.0) scale(1,1.330)" font-size="30.16" font-weight="normal" letter-spacing="0.00" stroke="#000" stroke-width="0.40" xml:space="preserve">553O</text>
<text transform="translate(2781.4,1236.5) scale(1,1.330)" font-size="30.16" font-weight="normal" letter-spacing="0.00" stroke="#000" stroke-width="0.40" xml:space="preserve">322O</text>
<text transform="translate(2781.6,1281.0) scale(1,1.330)" font-size="30.16" font-weight="normal" letter-spacing="0.00" stroke="#000" stroke-width="0.40" xml:space="preserve">3O65</text>
<text transform="translate(2782.3,1326.0) scale(1,1.330)" font-size="30.16" font-weight="normal" letter-spacing="0.00" stroke="#000" stroke-width="0.40" xml:space="preserve">I6,24</text>
</svg></body></html>
